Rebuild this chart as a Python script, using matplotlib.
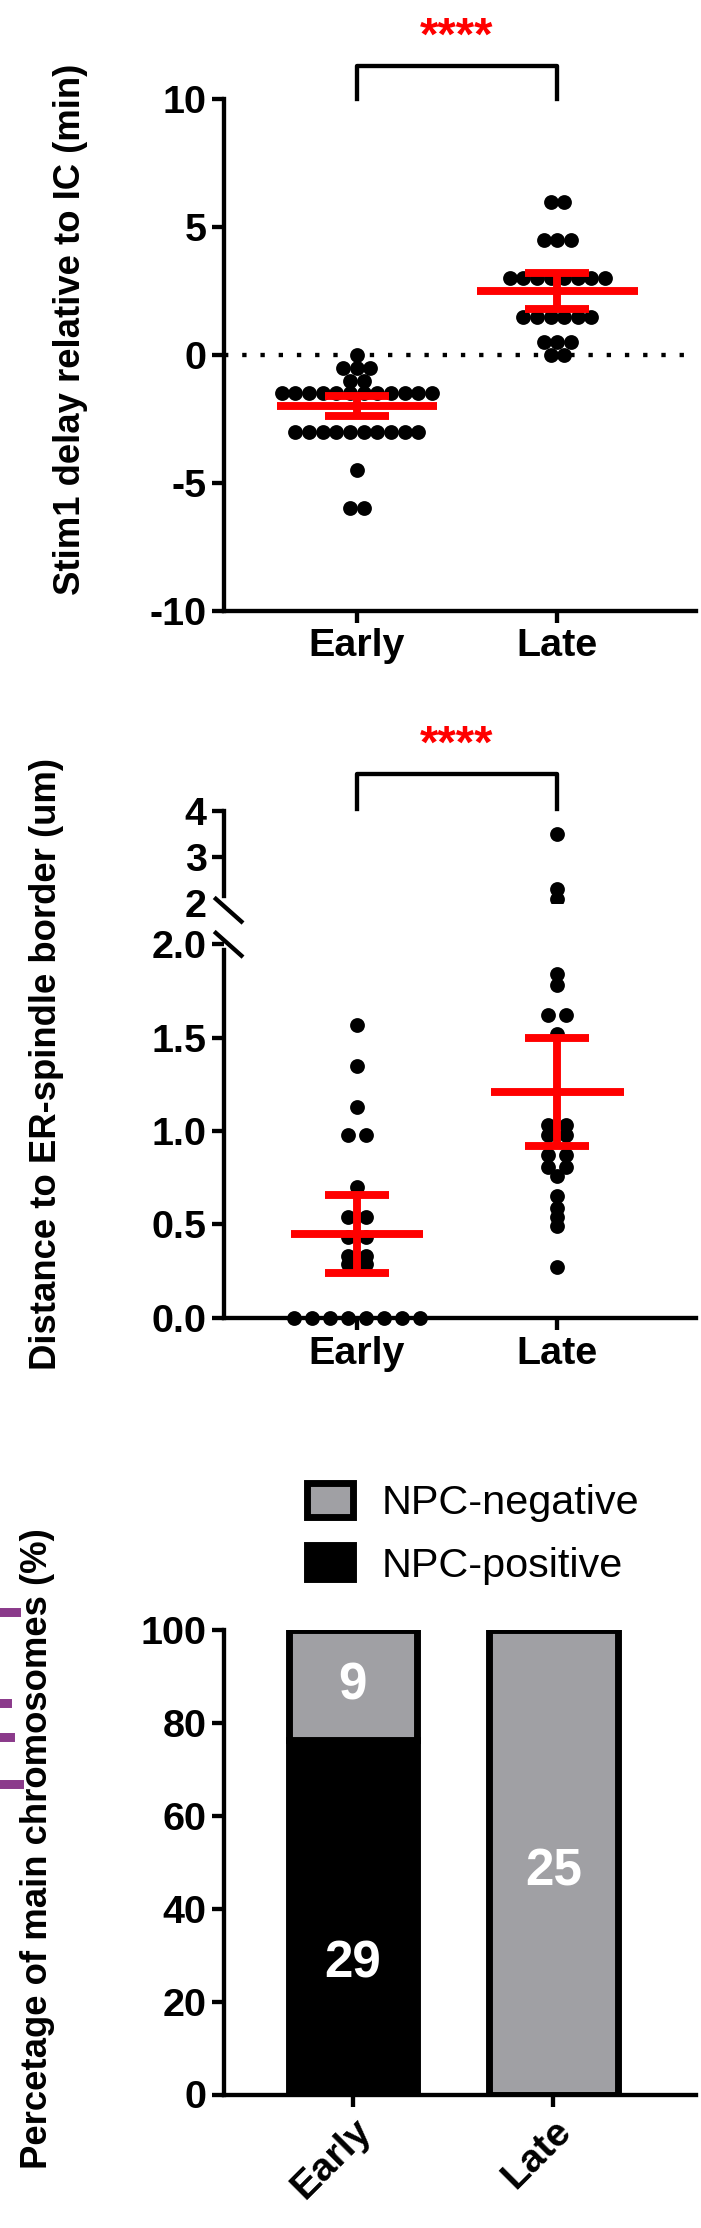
import numpy as np
import matplotlib.pyplot as plt
from matplotlib.lines import Line2D

plt.rcParams['font.family'] = 'Liberation Sans'
plt.rcParams['font.weight'] = 'bold'

# ---- datos ----
groups = ['Early', 'Late']

stim_early = [0] + [-0.5]*3 + [-1]*2 + [-1.5]*12 + [-3]*10 + [-4.5] + [-6]*2
stim_late = [6]*2 + [4.5]*3 + [3]*8 + [1.5]*6 + [0.5]*3 + [0]*2
stim_mean = [-2.0, 2.5]
stim_sem = [0.4, 0.7]

dist_early = [1.57, 1.35, 1.13, 0.98, 0.98, 0.70, 0.54, 0.54, 0.43, 0.43,
              0.33, 0.33, 0.29, 0.29] + [0]*8
dist_late = [3.5, 2.3, 2.1, 1.84, 1.78, 1.62, 1.62, 1.52, 1.03, 1.03, 0.98, 0.98,
             0.87, 0.87, 0.81, 0.81, 0.76, 0.65, 0.59, 0.54, 0.49, 0.27]
dist_mean = [0.45, 1.21]
dist_sem = [0.21, 0.29]

npc_pos = [29, 0]
npc_neg = [9, 25]
npc_pos_pct = [76.3, 0]
npc_neg_pct = [23.7, 100]

RED = '#ff0000'
GRAY = '#a0a0a4'
DPI = 142
W, H = 701 / 1.42, 2228 / 1.42   # coordenadas de trabajo


def ax_at(x0, y0, x1, y1):
    return fig.add_axes([x0 / W, 1 - y1 / H, (x1 - x0) / W, (y1 - y0) / H])


def style(ax, bottom=True):
    for s in ['top', 'right']:
        ax.spines[s].set_visible(False)
    for s in ['left', 'bottom']:
        ax.spines[s].set_linewidth(2.2)
    if not bottom:
        ax.spines['bottom'].set_visible(False)
    ax.tick_params(width=2.2, length=6, labelsize=20, pad=3)
    for lab in ax.get_yticklabels() + ax.get_xticklabels():
        lab.set_fontweight('bold')


def swarm(ax, xc, vals, sp):
    vals = np.array(vals)
    for v in np.unique(vals):
        n = np.sum(vals == v)
        xs = xc + (np.arange(n) - (n - 1) / 2) * sp
        ax.plot(xs, [v]*n, 'o', color='black', ms=6.5, zorder=3)


def meanbar(ax, xc, m, e, hw):
    ax.plot([xc - hw, xc + hw], [m, m], color=RED, lw=4, zorder=4, solid_capstyle='butt')
    ax.errorbar([xc], [m], yerr=[e], color=RED, lw=4, capsize=16, capthick=4, zorder=4, fmt='none')


fig = plt.figure(figsize=(701 / DPI, 2228 / DPI), dpi=DPI)

# ---- panel 1 ----
ax1 = ax_at(158, 70, 490, 430)
swarm(ax1, 1, stim_early, 0.068)
swarm(ax1, 2, stim_late, 0.068)
for c in ax1.lines:
    c.set_clip_on(False)
for i in range(2):
    meanbar(ax1, i + 1, stim_mean[i], stim_sem[i], 0.4)
ax1.axhline(0, color='black', ls=(0, (1, 3.2)), lw=2.2, zorder=1)
ax1.set_xlim(0.34, 2.69)
ax1.set_ylim(-10, 10)
ax1.set_yticks([-10, -5, 0, 5, 10])
ax1.set_yticklabels(['-10', '-5', '0', '5', '10'])
ax1.set_xticks([1, 2])
ax1.set_xticklabels(groups)
ax1.set_ylabel('Stim1 delay relative to IC (min)', fontsize=18.5, fontweight='bold')
ax1.yaxis.set_label_coords(-0.29, 0.55)
style(ax1)
ax1.plot([1, 1, 2, 2], [10, 11.3, 11.3, 10], color='black', lw=2.2, clip_on=False)
ax1.text(1.5, 12.4, '****', color=RED, fontsize=24, ha='center', va='center', fontweight='bold')

# ---- panel 2 (eje cortado) ----
ax2 = ax_at(158, 665, 490, 928)
ax2u = ax_at(158, 571, 490, 636)
for a in (ax2, ax2u):
    swarm(a, 1, dist_early, 0.09)
    swarm(a, 2, dist_late, 0.09)
    for i in range(2):
        meanbar(a, i + 1, dist_mean[i], dist_sem[i], 0.33)
    a.set_xlim(0.34, 2.69)
for ln in ax2.lines:
    if len(ln.get_xdata()) and all(v == 0 for v in ln.get_ydata()):
        ln.set_clip_on(False)
ax2.set_ylim(0, 2.0)
ax2.set_yticks([0, 0.5, 1.0, 1.5, 2.0])
ax2.set_yticklabels(['0.0', '0.5', '1.0', '1.5', '2.0'])
ax2.set_xticks([1, 2])
ax2.set_xticklabels(groups)
ax2u.set_ylim(2, 4)
ax2u.set_yticks([2, 3, 4])
ax2u.set_xticks([])
style(ax2)
style(ax2u, bottom=False)
ax2u.yaxis.get_major_ticks()[0].tick1line.set_visible(False)
ax2.spines['left'].set_bounds(0, 1.97)
ax2u.spines['left'].set_bounds(2.15, 4)
ax2.set_ylabel('Distance to ER-spindle border (um)', fontsize=18.5, fontweight='bold')
ax2.yaxis.set_label_coords(-0.34, 0.68)
for y in (641, 665):
    fig.add_artist(Line2D([152 / W, 170 / W], [1 - (y - 8) / H, 1 - (y + 8) / H], color='black', lw=2.2))
ax2u.plot([1, 1, 2, 2], [4.03, 4.8, 4.8, 4.03], color='black', lw=2.2, clip_on=False)
ax2u.text(1.5, 5.42, '****', color=RED, fontsize=24, ha='center', va='center', fontweight='bold')

# ---- panel 3 ----
ax3 = ax_at(158, 1148, 490, 1475)
x = np.array([1, 2])
ax3.bar(x, npc_pos_pct, width=0.64, color='black', edgecolor='black', lw=3.5, label='NPC-positive')
ax3.bar(x, npc_neg_pct, width=0.64, bottom=npc_pos_pct, color=GRAY, edgecolor='black', lw=3.5,
        label='NPC-negative')
ax3.text(1, 88, str(npc_neg[0]), color='white', fontsize=26, ha='center', va='center', fontweight='bold')
ax3.text(1, 28, str(npc_pos[0]), color='white', fontsize=26, ha='center', va='center', fontweight='bold')
ax3.text(2, 48, str(npc_neg[1]), color='white', fontsize=26, ha='center', va='center', fontweight='bold')
ax3.set_xlim(0.36, 2.71)
ax3.set_ylim(0, 100)
ax3.set_yticks([0, 20, 40, 60, 80, 100])
ax3.set_xticks(x)
ax3.set_xticklabels(groups, rotation=45, ha='right', rotation_mode='anchor')
ax3.set_ylabel('Percetage of main chromosomes (%)', fontsize=18.5, fontweight='bold')
ax3.yaxis.set_label_coords(-0.36, 0.53)
style(ax3)
h, l = ax3.get_legend_handles_labels()
fig.legend(h[::-1], l[::-1], loc='upper left', bbox_to_anchor=(190 / W, 1 - 1018 / H), frameon=False,
           prop={'family': 'Liberation Sans', 'weight': 'normal', 'size': 21}, handlelength=1.1,
           handleheight=0.9, labelspacing=0.55, handletextpad=0.7)

# marcas moradas del borde
for y0, w in [(1133, 14), (1197, 8), (1221, 10), (1254, 16)]:
    fig.add_artist(plt.Rectangle((0, 1 - (y0 + 5) / H), w / W, 5 / H, color='#8b3a8b'))

fig.savefig('out.png', dpi=DPI)
